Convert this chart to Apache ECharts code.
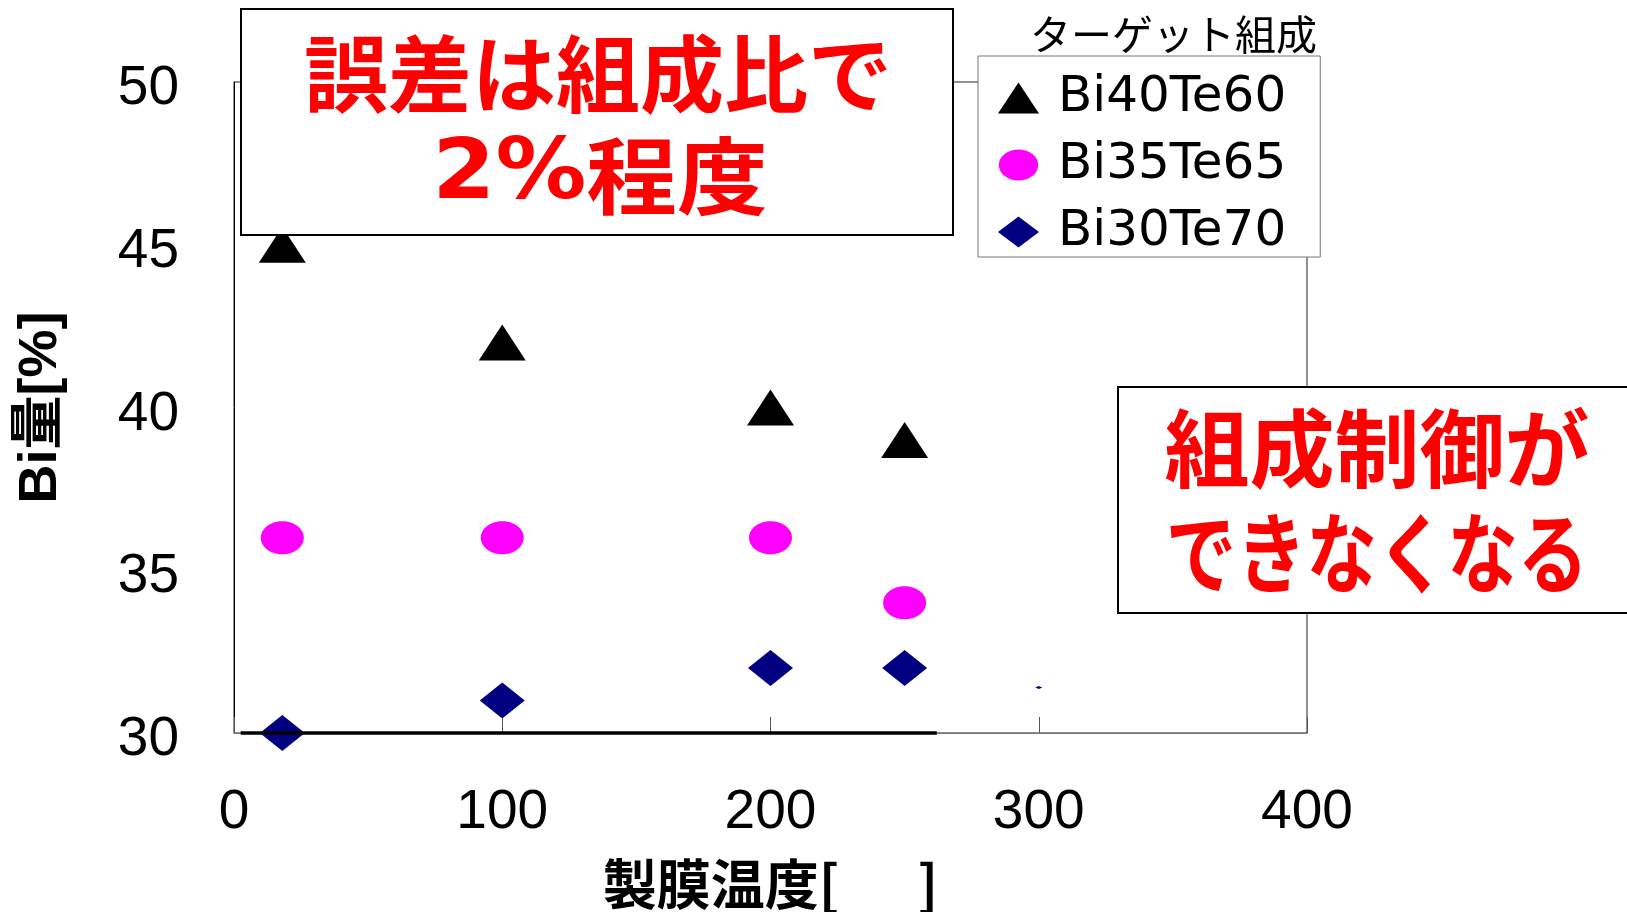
<!DOCTYPE html>
<html>
<head>
<meta charset="utf-8">
<script src="https://cdn.jsdelivr.net/npm/echarts@6/dist/echarts.min.js"></script>
<style>
  html, body { margin: 0; padding: 0; background: #fff; }
  #chart { width: 1627px; height: 912px; }
</style>
</head>
<body>
<div id="chart"></div>
<script>
// Deposition temperature [°C] for each measured film
const temps40 = [18, 100, 200, 250];
const temps35 = [18, 100, 200, 250];
const temps30 = [18, 100, 200, 250, 300];

// Bi content [%] for each target composition
const bi40Te60 = [45, 42, 40, 39];
const bi35Te65 = [36, 36, 36, 34];
const bi30Te70 = [30, 31, 32, 32, 31.4];

const seriesNames = ['Bi40Te60', 'Bi35Te65', 'Bi30Te70'];

// Axis scales and tick labels
const xTicks = [0, 100, 200, 300, 400];
const yTicks = [30, 35, 40, 45, 50];

// Heavy baseline segment along the x axis (x range, at y = 30)
const baseSegment = [2.5, 262];

const pairs = (xs, ys) => xs.map((x, i) => [x, ys[i]]);

const ellipse = 'path://M21,0 C32.6,0 42,7.4 42,16.5 C42,25.6 32.6,33 21,33 C9.4,33 0,25.6 0,16.5 C0,7.4 9.4,0 21,0 Z';

const latin = '"Liberation Sans", Arial, sans-serif';
const cjk = '"Noto Sans CJK JP", sans-serif';

const chart = echarts.init(document.getElementById('chart'), null, { renderer: 'canvas' });

chart.setOption({
  backgroundColor: '#ffffff',
  animation: false,
  grid: {
    left: 234, right: 320, top: 82, bottom: 179,
    containLabel: false,
    outerBoundsMode: 'none',
    show: true, borderColor: '#222', borderWidth: 1, backgroundColor: 'transparent'
  },
  xAxis: {
    type: 'value',
    min: xTicks[0], max: xTicks[xTicks.length - 1], interval: 100,
    name: '製膜温度[　  ]',
    nameLocation: 'middle',
    nameGap: 124,
    nameTextStyle: { fontFamily: cjk, fontWeight: 'bold', fontSize: 54, color: '#000' },
    axisLine: { show: true, lineStyle: { color: '#777', width: 1 } },
    axisTick: { show: true, inside: true, length: 16, lineStyle: { color: '#555', width: 1 } },
    axisLabel: { fontFamily: latin, fontSize: 55, color: '#000', margin: 52 },
    splitLine: { show: false }
  },
  yAxis: {
    type: 'value',
    min: yTicks[0], max: yTicks[yTicks.length - 1], interval: 5,
    name: 'Bi量[%]',
    nameLocation: 'middle',
    nameGap: 166,
    nameTextStyle: { fontFamily: '"Liberation Sans", "Noto Sans CJK JP", sans-serif', fontWeight: 'bold', fontSize: 54, color: '#000' },
    axisLine: { show: true, lineStyle: { color: '#000', width: 1 } },
    axisTick: { show: false },
    axisLabel: { fontFamily: latin, fontSize: 55, color: '#000', margin: 55, verticalAlign: 'top', lineHeight: 14 },
    splitLine: { show: false }
  },
  legend: {
    orient: 'vertical',
    left: 978, top: 56,
    padding: [17, 34, 0, 20],
    itemGap: 17,
    itemWidth: 41, itemHeight: 31,
    backgroundColor: '#fff',
    borderColor: '#777', borderWidth: 1,
    textStyle: { fontFamily: '"DejaVu Sans", sans-serif', fontSize: 50, lineHeight: 50, color: '#000', padding: [0, 0, 0, 14] },
    data: [
      { name: seriesNames[0], icon: 'triangle' },
      { name: seriesNames[1], icon: ellipse },
      { name: seriesNames[2], icon: 'diamond' }
    ],
    z: 20
  },
  series: [
    {
      name: seriesNames[0], type: 'scatter',
      symbol: 'triangle', symbolSize: [47, 36],
      itemStyle: { color: '#000000', opacity: 1 },
      data: pairs(temps40, bi40Te60), z: 3
    },
    {
      name: seriesNames[1], type: 'scatter',
      symbol: ellipse, symbolSize: [43, 33],
      itemStyle: { color: '#ff00ff', opacity: 1 },
      data: pairs(temps35, bi35Te65), z: 3
    },
    {
      name: seriesNames[2], type: 'scatter',
      symbol: 'diamond',
      symbolSize: (v, p) => (p.dataIndex === 4 ? [7, 3] : [45, 36]),
      itemStyle: { color: '#000080', opacity: 1 },
      data: pairs(temps30, bi30Te70), z: 3
    },
    {
      name: 'baseline', type: 'line', data: [], z: 5,
      markLine: {
        silent: true, symbol: ['none', 'none'], label: { show: false },
        lineStyle: { color: '#000', width: 3.5, type: 'solid', opacity: 1 },
        data: [[{ coord: [baseSegment[0], yTicks[0]] }, { coord: [baseSegment[1], yTicks[0]] }]]
      }
    }
  ],
  graphic: [
    // legend heading
    {
      type: 'text', x: 1030, y: 34, z: 30,
      style: { text: 'ターゲット組成', font: '41px "Noto Sans CJK JP"', fill: '#000', align: 'left', verticalAlign: 'middle' }
    },
    // upper callout
    {
      type: 'rect', z: 100,
      shape: { x: 241, y: 9, width: 712, height: 226 },
      style: { fill: '#fff', stroke: '#000', lineWidth: 2 }
    },
    {
      type: 'text', x: 598, y: 74, z: 101,
      style: { text: '誤差は組成比で', font: 'bold 84px "Noto Sans CJK JP"', fill: '#ff0000', align: 'center', verticalAlign: 'middle' }
    },
    {
      type: 'text', x: 600, y: 176, z: 101, scaleX: 1.08,
      style: {
        text: '{a|2%}{b|程度}', align: 'center', verticalAlign: 'middle',
        rich: {
          a: { font: 'bold 84px "DejaVu Sans"', fill: '#ff0000' },
          b: { font: 'bold 84px "Noto Sans CJK JP"', fill: '#ff0000' }
        }
      }
    },
    // lower-right callout
    {
      type: 'rect', z: 100,
      shape: { x: 1118, y: 387, width: 530, height: 226 },
      style: { fill: '#fff', stroke: '#000', lineWidth: 2 }
    },
    {
      type: 'text', x: 1377, y: 449, z: 101,
      style: { text: '組成制御が', font: 'bold 85px "Noto Sans CJK JP"', fill: '#ff0000', align: 'center', verticalAlign: 'middle' }
    },
    {
      type: 'text', x: 1377, y: 553, z: 101, scaleX: 0.8,
      style: { text: 'できなくなる', font: 'bold 88px "Noto Sans CJK JP"', fill: '#ff0000', align: 'center', verticalAlign: 'middle' }
    }
  ]
});
</script>
</body>
</html>
